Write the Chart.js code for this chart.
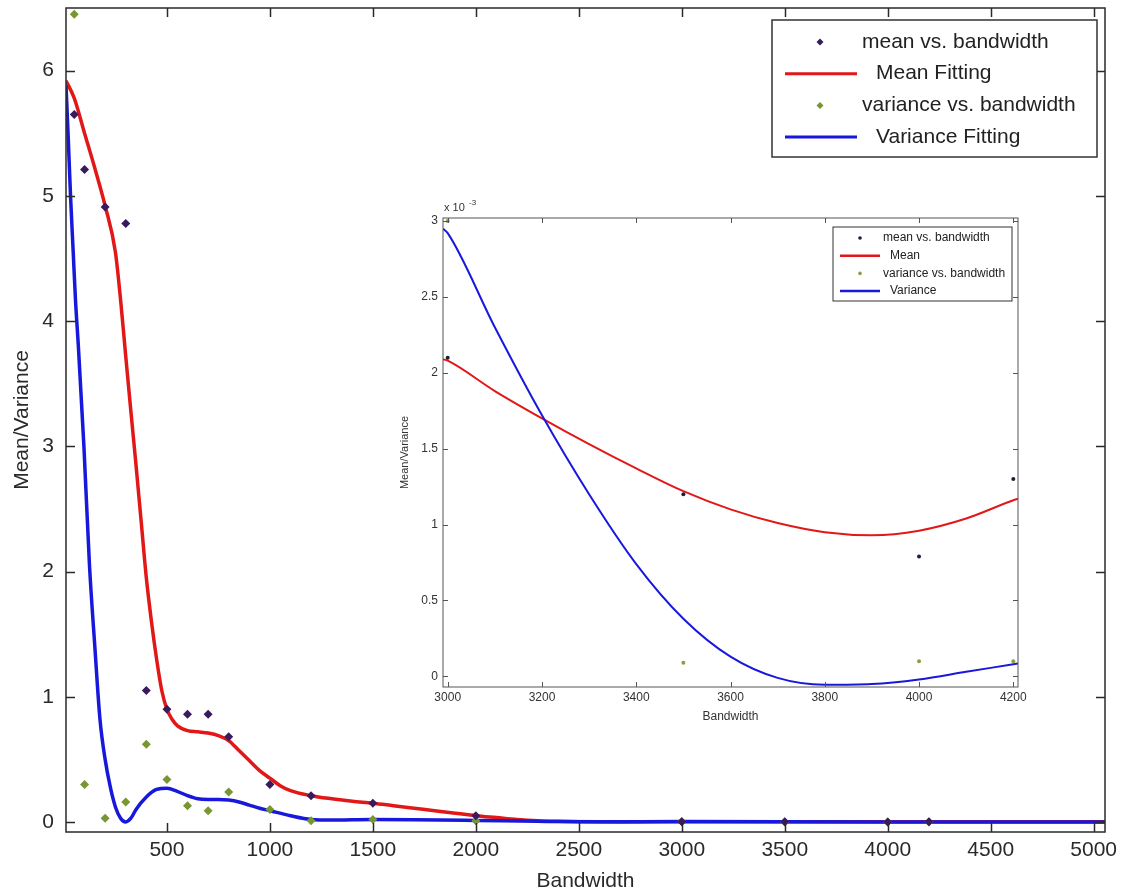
<!DOCTYPE html>
<html>
<head>
<meta charset="utf-8">
<script src="https://cdn.jsdelivr.net/npm/chart.js@4.4.0/dist/chart.umd.min.js"></script>
<style>
  html, body { margin: 0; padding: 0; background: #fff; }
  #wrap { position: relative; width: 1127px; height: 895px; }
  #mainChart { position: absolute; left: 0; top: 0; }
  #insetChart { position: absolute; left: 385px; top: 195px; }
</style>
</head>
<body>
<div id="wrap">
  <canvas id="mainChart" width="1127" height="895"></canvas>
  <canvas id="insetChart" width="660" height="535"></canvas>
</div>
<script>
// ---- main plot data ----
const xTicks = [500, 1000, 1500, 2000, 2500, 3000, 3500, 4000, 4500, 5000];
const yTicks = [0, 1, 2, 3, 4, 5, 6];

const bwSamples   = [50, 100, 200, 300, 400, 500, 600, 700, 800, 1000, 1200, 1500, 2000, 3000, 3500, 4000, 4200];
const meanSamples = [5.65, 5.21, 4.91, 4.78, 1.05, 0.90, 0.86, 0.86, 0.68, 0.30, 0.21, 0.15, 0.05, 0.0021, 0.0012, 0.0008, 0.0013];
const varSamples  = [6.45, 0.30, 0.03, 0.16, 0.62, 0.34, 0.13, 0.09, 0.24, 0.10, 0.01, 0.02, 0.01, 0.003, 0.0001, 0.0001, 0.0001];

const meanFitBw  = [10, 50, 100, 150, 200, 250, 275, 300, 325, 350, 375, 400, 425, 450, 475, 500, 525, 550, 600, 650,
                    700, 750, 800, 850, 900, 950, 1000, 1050, 1100, 1200, 1300, 1400, 1500, 1600, 1700, 1800, 1900, 2000,
                    2100, 2200, 2300, 2400, 2500, 2700, 3000, 4000, 5055];
const meanFitVal = [5.92, 5.78, 5.50, 5.22, 4.92, 4.55, 4.17, 3.72, 3.28, 2.85, 2.40, 1.95, 1.60, 1.30, 1.05, 0.90, 0.82, 0.77, 0.73, 0.72,
                    0.71, 0.69, 0.65, 0.57, 0.49, 0.41, 0.35, 0.29, 0.25, 0.21, 0.185, 0.165, 0.15, 0.13, 0.11, 0.09, 0.07, 0.05,
                    0.035, 0.02, 0.01, 0.005, 0.002, 0.0, 0.002, 0.001, 0.001];

const varFitBw  = [10, 20, 32, 45, 56, 70, 97, 124, 150, 175, 200, 225, 250, 275, 300, 325, 350, 400, 450, 500,
                   550, 600, 650, 700, 750, 800, 850, 900, 950, 1000, 1100, 1200, 1300, 1400, 1500, 1700, 2000, 2300,
                   2600, 3000, 4000, 5055];
const varFitVal = [5.88, 5.50, 5.00, 4.55, 4.17, 3.80, 3.00, 2.05, 1.40, 0.82, 0.50, 0.28, 0.12, 0.03, 0.00, 0.03, 0.10, 0.20, 0.26, 0.27,
                   0.245, 0.21, 0.185, 0.18, 0.18, 0.175, 0.16, 0.135, 0.11, 0.09, 0.05, 0.02, 0.015, 0.018, 0.02, 0.018, 0.012, 0.005,
                   0.001, 0.003, 0.0, 0.0];

// ---- inset data (units of 1e-3) ----
const insetXTicks = [3000, 3200, 3400, 3600, 3800, 4000, 4200];
const insetYTicks = [0, 0.5, 1, 1.5, 2, 2.5, 3];

const insetBw      = [3000, 3500, 4000, 4200];
const insetMean    = [2.10, 1.20, 0.79, 1.30];
const insetVar     = [3.00, 0.09, 0.10, 0.10];

const insetFitBw   = [2990, 3000, 3100, 3200, 3300, 3400, 3500, 3600, 3700, 3800, 3900, 4000, 4100, 4200, 4210];
const insetMeanFit = [2.09, 2.08, 1.88, 1.70, 1.53, 1.37, 1.22, 1.10, 1.01, 0.95, 0.93, 0.96, 1.04, 1.16, 1.17];
const insetVarFit  = [2.95, 2.92, 2.30, 1.72, 1.20, 0.74, 0.38, 0.13, -0.01, -0.055, -0.05, -0.02, 0.03, 0.08, 0.085];

const pts = (xs, ys) => xs.map((x, i) => ({x: x, y: ys[i]}));
const plain = v => String(v);

const FONT = '"Liberation Sans", Arial, sans-serif';
const RED = '#e21818';
const BLUE = '#1818dc';

// drop the label overflow padding so the plot box sits where we put it
const noPad = s => { s.paddingTop = 0; s.paddingBottom = 0; s.paddingLeft = 0; s.paddingRight = 0; };

// inward MATLAB-style ticks and the axes box
const boxTicks = {
    id: 'boxTicks',
    afterDatasetsDraw(chart, args, o) {
        const {ctx, chartArea: a, scales: {x, y}} = chart;
        ctx.save();
        ctx.strokeStyle = o.color;
        ctx.lineWidth = o.width;
        ctx.beginPath();
        x.ticks.forEach(t => {
            const px = Math.round(x.getPixelForValue(t.value)) + 0.5;
            ctx.moveTo(px, a.bottom); ctx.lineTo(px, a.bottom - o.len);
            ctx.moveTo(px, a.top); ctx.lineTo(px, a.top + o.len);
        });
        y.ticks.forEach(t => {
            const py = Math.round(y.getPixelForValue(t.value)) + 0.5;
            ctx.moveTo(a.left, py); ctx.lineTo(a.left + o.len, py);
            ctx.moveTo(a.right, py); ctx.lineTo(a.right - o.len, py);
        });
        ctx.stroke();
        ctx.strokeRect(a.left, a.top, a.right - a.left, a.bottom - a.top);
        ctx.restore();
    }
};

// boxed legend like MATLAB's
const boxLegend = {
    id: 'boxLegend',
    afterDraw(chart, args, o) {
        const ctx = chart.ctx;
        ctx.save();
        ctx.fillStyle = '#fff';
        ctx.fillRect(o.left, o.top, o.width, o.height);
        ctx.strokeStyle = '#333';
        ctx.lineWidth = o.border;
        ctx.strokeRect(o.left, o.top, o.width, o.height);
        ctx.font = o.font;
        ctx.textBaseline = 'middle';
        chart.data.datasets.forEach((ds, i) => {
            const cy = o.top + o.firstRow + i * o.rowGap;
            if (ds.showLine) {
                ctx.strokeStyle = ds.borderColor;
                ctx.lineWidth = o.lineWidth;
                ctx.beginPath();
                ctx.moveTo(o.left + o.line0, cy);
                ctx.lineTo(o.left + o.line1, cy);
                ctx.stroke();
                ctx.fillStyle = '#222';
                ctx.fillText(ds.label, o.left + o.textLine, cy);
            } else {
                ctx.fillStyle = ds.backgroundColor;
                Chart.helpers.drawPoint(ctx, {pointStyle: ds.pointStyle, radius: o.markerR, rotation: 0, borderWidth: 0},
                    o.left + o.marker, cy);
                ctx.fillStyle = '#222';
                ctx.fillText(ds.label, o.left + o.textPts, cy);
            }
        });
        ctx.restore();
    }
};

// "x 10^-3" label above the inset y axis
const expLabel = {
    id: 'expLabel',
    afterDraw(chart) {
        const ctx = chart.ctx, a = chart.chartArea;
        ctx.save();
        ctx.fillStyle = '#333';
        ctx.textBaseline = 'alphabetic';
        ctx.font = '11px ' + FONT;
        ctx.fillText('x 10', a.left + 1, a.top - 7);
        ctx.font = '8px ' + FONT;
        ctx.fillText('-3', a.left + 26, a.top - 13);
        ctx.restore();
    }
};

// main chart
new Chart(document.getElementById('mainChart'), {
    type: 'scatter',
    data: {
        datasets: [
            {label: 'mean vs. bandwidth', data: pts(bwSamples, meanSamples), showLine: false, order: 0,
             pointStyle: 'rectRot', pointRadius: 4.5, backgroundColor: '#3a1a5e', borderWidth: 0},
            {label: 'Mean Fitting', data: pts(meanFitBw, meanFitVal), showLine: true, order: 3,
             borderColor: RED, borderWidth: 3.5, pointRadius: 0, cubicInterpolationMode: 'monotone'},
            {label: 'variance vs. bandwidth', data: pts(bwSamples, varSamples), showLine: false, order: 1,
             pointStyle: 'rectRot', pointRadius: 4.5, backgroundColor: '#789632', borderWidth: 0},
            {label: 'Variance Fitting', data: pts(varFitBw, varFitVal), showLine: true, order: 2,
             borderColor: BLUE, borderWidth: 3.5, pointRadius: 0, cubicInterpolationMode: 'monotone'}
        ]
    },
    options: {
        responsive: false,
        animation: false,
        layout: {padding: {top: 8, right: 22, left: 0, bottom: 0}},
        plugins: {
            legend: {display: false},
            tooltip: {enabled: false},
            boxTicks: {color: '#2a2a2a', width: 1.5, len: 9},
            boxLegend: {left: 772, top: 20, width: 325, height: 137, border: 1.5, firstRow: 22, rowGap: 31.7,
                        marker: 48, markerR: 3.5, line0: 13, line1: 85, lineWidth: 3, textPts: 90, textLine: 104,
                        font: '21px ' + FONT}
        },
        scales: {
            x: {
                type: 'linear', min: 10, max: 5055,
                afterBuildTicks: s => { s.ticks = xTicks.map(v => ({value: v})); },
                afterFit: s => { s.height = 63; noPad(s); },
                grid: {display: false, drawTicks: false},
                border: {display: false},
                ticks: {font: {family: FONT, size: 21}, color: '#2a2a2a', padding: 6, maxRotation: 0, autoSkip: false, callback: plain},
                title: {display: true, text: 'Bandwidth', font: {family: FONT, size: 21}, color: '#2a2a2a', padding: {top: 0, bottom: 1}}
            },
            y: {
                type: 'linear', min: -0.08, max: 6.5,
                afterBuildTicks: s => { s.ticks = yTicks.map(v => ({value: v})); },
                afterFit: s => { s.width = 66; noPad(s); },
                grid: {display: false, drawTicks: false},
                border: {display: false},
                ticks: {font: {family: FONT, size: 21}, color: '#2a2a2a', padding: 12, callback: plain},
                title: {display: true, text: 'Mean/Variance', font: {family: FONT, size: 21}, color: '#2a2a2a', padding: {top: 10, bottom: 0}}
            }
        }
    },
    plugins: [boxTicks, boxLegend]
});

// inset chart
new Chart(document.getElementById('insetChart'), {
    type: 'scatter',
    data: {
        datasets: [
            {label: 'mean vs. bandwidth', data: pts(insetBw, insetMean), showLine: false, order: 0,
             pointStyle: 'circle', pointRadius: 2, backgroundColor: '#1e1e3c', borderWidth: 0},
            {label: 'Mean', data: pts(insetFitBw, insetMeanFit), showLine: true, order: 3,
             borderColor: RED, borderWidth: 2, pointRadius: 0, cubicInterpolationMode: 'monotone'},
            {label: 'variance vs. bandwidth', data: pts(insetBw, insetVar), showLine: false, order: 1,
             pointStyle: 'circle', pointRadius: 2, backgroundColor: '#8aa040', borderWidth: 0},
            {label: 'Variance', data: pts(insetFitBw, insetVarFit), showLine: true, order: 2,
             borderColor: BLUE, borderWidth: 2, pointRadius: 0, cubicInterpolationMode: 'monotone'}
        ]
    },
    options: {
        responsive: false,
        animation: false,
        layout: {padding: {top: 23, right: 27, left: 0, bottom: 0}},
        plugins: {
            legend: {display: false},
            tooltip: {enabled: false},
            boxTicks: {color: '#555', width: 1, len: 5},
            boxLegend: {left: 448, top: 32, width: 179, height: 74, border: 1, firstRow: 11, rowGap: 17.7,
                        marker: 27, markerR: 1.8, line0: 7, line1: 47, lineWidth: 2.5, textPts: 50, textLine: 57,
                        font: '12px ' + FONT}
        },
        scales: {
            x: {
                type: 'linear', min: 2990, max: 4210,
                afterBuildTicks: s => { s.ticks = insetXTicks.map(v => ({value: v})); },
                afterFit: s => { s.height = 43; noPad(s); },
                grid: {display: false, drawTicks: false},
                border: {display: false},
                ticks: {font: {family: FONT, size: 12}, color: '#333', padding: 3, maxRotation: 0, autoSkip: false, callback: plain},
                title: {display: true, text: 'Bandwidth', font: {family: FONT, size: 12}, color: '#333', padding: {top: 0, bottom: 6}}
            },
            y: {
                type: 'linear', min: -0.07, max: 3.02,
                afterBuildTicks: s => { s.ticks = insetYTicks.map(v => ({value: v})); },
                afterFit: s => { s.width = 58; noPad(s); },
                grid: {display: false, drawTicks: false},
                border: {display: false},
                ticks: {font: {family: FONT, size: 12}, color: '#333', padding: 5, callback: plain},
                title: {display: true, text: 'Mean/Variance', font: {family: FONT, size: 11}, color: '#333', padding: {top: 13, bottom: 0}}
            }
        }
    },
    plugins: [boxTicks, boxLegend, expLabel]
});
</script>
</body>
</html>
